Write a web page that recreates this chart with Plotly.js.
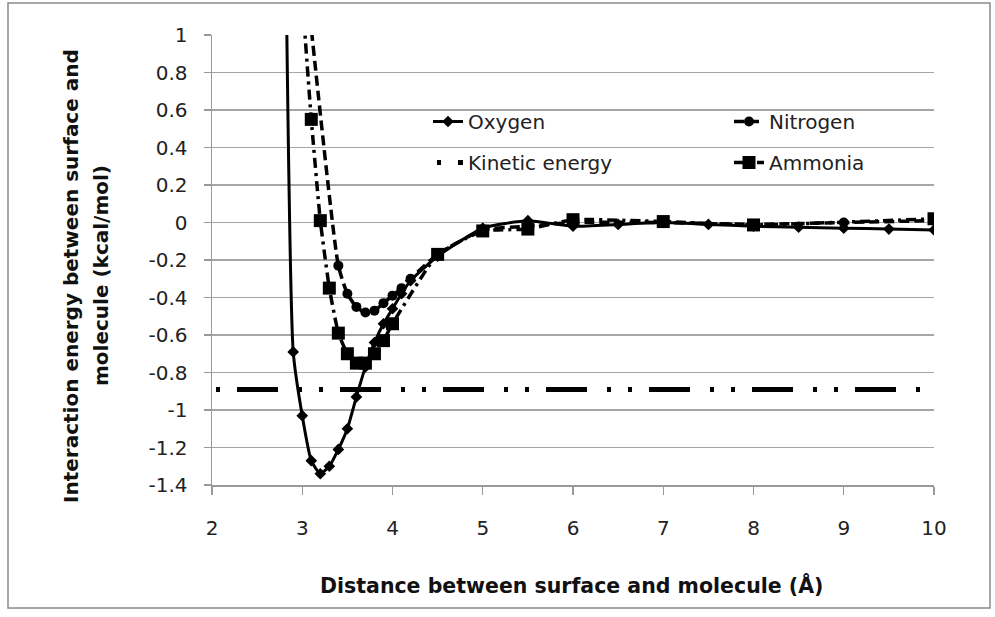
<!DOCTYPE html>
<html>
<head>
<meta charset="utf-8">
<script src="https://cdn.plot.ly/plotly-3.0.1.min.js"></script>
<style>
  html, body { margin: 0; padding: 0; background: #ffffff; }
  #chart { width: 995px; height: 617px; }
</style>
</head>
<body>
<div id="chart"></div>
<script>
// ---- data ----
const seriesNames = ["Oxygen", "Nitrogen", "Kinetic energy", "Ammonia"];

const oxygenX = [2.8, 2.9, 3.0, 3.1, 3.2, 3.3, 3.4, 3.5, 3.6, 3.7, 3.8, 3.9, 4.0, 4.1, 4.2, 4.5, 5.0, 5.5, 6.0, 6.5, 7.0, 7.5, 8.0, 8.5, 9.0, 9.5, 10.0];
const oxygenY = [2.2, -0.69, -1.03, -1.27, -1.34, -1.30, -1.21, -1.10, -0.93, -0.77, -0.64, -0.54, -0.46, -0.38, -0.31, -0.18, -0.03, 0.01, -0.02, -0.01, 0.0, -0.01, -0.02, -0.025, -0.03, -0.035, -0.04];

const nitrogenX = [3.0, 3.4, 3.5, 3.6, 3.7, 3.8, 3.9, 4.0, 4.1, 4.2, 4.5, 5.0, 5.5, 6.0, 7.0, 8.0, 9.0, 10.0];
const nitrogenY = [1.5, -0.23, -0.38, -0.45, -0.48, -0.47, -0.43, -0.39, -0.35, -0.30, -0.17, -0.04, -0.02, 0.0, 0.0, -0.01, 0.0, 0.01];

const kineticX = [2, 10];
const kineticY = [-0.89, -0.89];

const ammoniaX = [3.0, 3.1, 3.2, 3.3, 3.4, 3.5, 3.6, 3.7, 3.8, 3.9, 4.0, 4.5, 5.0, 5.5, 6.0, 7.0, 8.0, 10.0];
const ammoniaY = [1.2, 0.55, 0.01, -0.35, -0.59, -0.70, -0.75, -0.75, -0.70, -0.63, -0.54, -0.17, -0.045, -0.035, 0.015, 0.005, -0.013, 0.02];

const xTickVals = [2, 3, 4, 5, 6, 7, 8, 9, 10];
const yTickVals = [1, 0.8, 0.6, 0.4, 0.2, 0, -0.2, -0.4, -0.6, -0.8, -1, -1.2, -1.4];
const yTickText = ["1", "0.8", "0.6", "0.4", "0.2", "0", "-0.2", "-0.4", "-0.6", "-0.8", "-1", "-1.2", "-1.4"];

const xTitle = "Distance between surface and molecule (Å)";
const yTitleLines = ["Interaction energy between surface and", "molecule (kcal/mol)"];

// ---- layout constants ----
const FONT = "'DejaVu Sans', sans-serif";
const L = 212, R = 61, T = 35, B = 132;
const W = 995, H = 617;
const pw = W - L - R, ph = H - T - B;
const px2x = p => (p - L) / pw;
const py2y = q => (H - B - q) / ph;

const traces = [
  {
    x: oxygenX, y: oxygenY, name: seriesNames[0], type: "scatter", mode: "lines+markers",
    line: { color: "#000", width: 3, shape: "spline", smoothing: 0.5 },
    marker: { symbol: "diamond", size: 9, color: "#000" },
    legend: "legend", legendgroup: "a"
  },
  {
    x: nitrogenX, y: nitrogenY, name: seriesNames[1], type: "scatter", mode: "lines+markers",
    line: { color: "#000", width: 3.5, dash: "10px,5px", shape: "spline", smoothing: 0.5 },
    marker: { symbol: "circle", size: 10, color: "#000" },
    legend: "legend2", legendgroup: "b"
  },
  {
    x: kineticX, y: kineticY, name: seriesNames[2], type: "scatter", mode: "lines",
    line: { color: "#000", width: 5, dash: "0px,4px,4px,17px,41px,20px,4px,13px" },
    legend: "legend", legendgroup: "c"
  },
  {
    x: ammoniaX, y: ammoniaY, name: seriesNames[3], type: "scatter", mode: "lines+markers",
    line: { color: "#000", width: 3.5, dash: "10px,5px,3px,5px", shape: "spline", smoothing: 0.4 },
    marker: { symbol: "square", size: 13, color: "#000" },
    legend: "legend2", legendgroup: "d"
  }
];

const legendCommon = {
  orientation: "v",
  bgcolor: "rgba(0,0,0,0)",
  font: { family: FONT, size: 20, color: "#222" },
  tracegroupgap: 12,
  itemwidth: 30,
  xanchor: "left",
  yanchor: "top",
  traceorder: "grouped"
};

const layout = {
  width: W, height: H,
  margin: { l: L, r: R, t: T, b: B, pad: 0 },
  paper_bgcolor: "#fff",
  plot_bgcolor: "#fff",
  font: { family: FONT, size: 20, color: "#222" },
  showlegend: true,
  legend: Object.assign({}, legendCommon, { x: px2x(428), y: py2y(102) }),
  legend2: Object.assign({}, legendCommon, { x: px2x(729), y: py2y(102) }),
  xaxis: {
    range: [2, 10],
    tickvals: xTickVals,
    ticks: "outside", ticklen: 8, tickcolor: "#999", tickwidth: 1.3,
    ticklabelstandoff: 16,
    showgrid: false, zeroline: false,
    showline: true, linecolor: "#999", linewidth: 1.5,
    tickfont: { family: FONT, size: 20, color: "#222" }
  },
  yaxis: {
    range: [-1.4, 1],
    tickvals: yTickVals, ticktext: yTickText,
    ticks: "outside", ticklen: 7, tickcolor: "#999", tickwidth: 1.3,
    ticklabelstandoff: 12,
    showgrid: true, gridcolor: "#a6a6a6", gridwidth: 1.5,
    zeroline: false,
    showline: true, linecolor: "#999", linewidth: 1.5,
    tickfont: { family: FONT, size: 20, color: "#222" }
  },
  annotations: [
    {
      text: xTitle, xref: "paper", yref: "paper", x: px2x(571), y: py2y(585),
      xanchor: "center", yanchor: "middle", showarrow: false,
      font: { family: FONT, size: 20.5, color: "#111", weight: "bold" }
    },
    {
      text: yTitleLines[0], xref: "paper", yref: "paper", x: px2x(71), y: py2y(276),
      xanchor: "center", yanchor: "middle", showarrow: false, textangle: -90,
      font: { family: FONT, size: 20, color: "#111", weight: "bold" }
    },
    {
      text: yTitleLines[1], xref: "paper", yref: "paper", x: px2x(101), y: py2y(276),
      xanchor: "center", yanchor: "middle", showarrow: false, textangle: -90,
      font: { family: FONT, size: 20, color: "#111", weight: "bold" }
    }
  ],
  shapes: [
    {
      type: "rect", xref: "paper", yref: "paper",
      x0: px2x(8), x1: px2x(990), y0: py2y(608), y1: py2y(3),
      line: { color: "#8a8a8a", width: 1.5 }, fillcolor: "rgba(0,0,0,0)", layer: "below"
    }
  ]
};

Plotly.newPlot("chart", traces, layout, { displayModeBar: false, staticPlot: true });
</script>
</body>
</html>
